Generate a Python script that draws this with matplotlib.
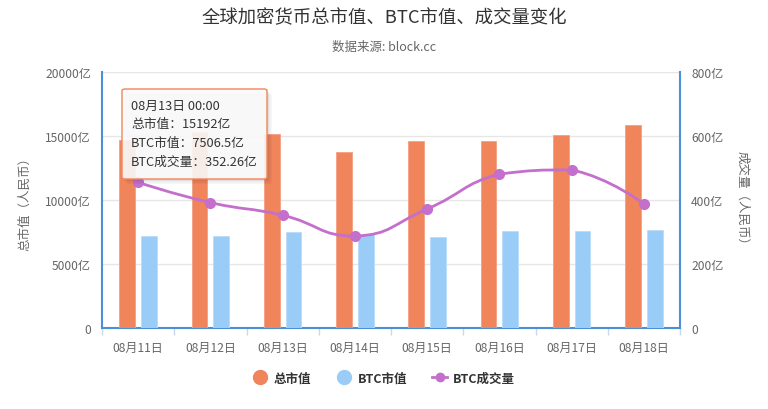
import matplotlib
matplotlib.use("Agg")
import matplotlib.pyplot as plt
import numpy as np
from matplotlib.path import Path
from matplotlib.patches import PathPatch, FancyBboxPatch
from matplotlib.lines import Line2D

plt.rcParams['font.family'] = ['Noto Sans CJK SC', 'DejaVu Sans']

# ---- data ----
dates = ['08月11日', '08月12日', '08月13日', '08月14日', '08月15日', '08月16日', '08月17日', '08月18日']
total_cap = [14700, 15300, 15192, 13730, 14600, 14600, 15080, 15860]
btc_cap = [7150, 7160, 7506.5, 7350, 7090, 7540, 7540, 7640]
btc_volume = [455, 392, 352.26, 287, 372, 481, 494, 388]
left_ticks = [0, 5000, 10000, 15000, 20000]
left_tick_labels = ['0', '5000亿', '10000亿', '15000亿', '20000亿']
right_ticks = [0, 200, 400, 600, 800]
right_tick_labels = ['0', '200亿', '400亿', '600亿', '800亿']
tooltip_lines = ['08月13日 00:00', '总市值：15192亿', 'BTC市值：7506.5亿', 'BTC成交量：352.26亿']

C_ORANGE = '#f0845b'
C_BLUE = '#99cdf8'
C_PURPLE = '#c36fcb'
C_AXIS = '#4c8fd6'
C_TEXT = '#666666'

W, H = 768, 410
fig = plt.figure(figsize=(W / 100, H / 100), dpi=100)
ax = fig.add_axes([102 / W, 1 - 329 / H, (680 - 102) / W, (329 - 73) / H])
ax2 = ax.twinx()

x = np.arange(len(dates))
bw = 0.22
ax.bar(x - 0.15, total_cap, width=bw, color=C_ORANGE, edgecolor='#f5a080', linewidth=0.6, zorder=3)
ax.bar(x + 0.15, btc_cap, width=bw, color=C_BLUE, edgecolor='#b9dcfa', linewidth=0.6, zorder=3)

ax.set_xlim(-0.5, len(dates) - 0.5)
ax.set_ylim(0, 20000)
ax2.set_ylim(0, 800)

# grid
for t in left_ticks[1:]:
    ax.axhline(t, color='#e6e6e6', linewidth=1, zorder=1)

ax.set_yticks(left_ticks)
ax.set_yticklabels(left_tick_labels)
ax2.set_yticks(right_ticks)
ax2.set_yticklabels(right_tick_labels)
for a in (ax, ax2):
    a.tick_params(axis='y', length=0, pad=8, labelsize=8.7, labelcolor=C_TEXT)
    for s in a.spines.values():
        s.set_visible(False)
ax.spines['left'].set_visible(True)
ax.spines['bottom'].set_visible(True)
ax2.spines['right'].set_visible(True)
for s in (ax.spines['left'], ax.spines['bottom'], ax2.spines['right']):
    s.set_color(C_AXIS)
    s.set_linewidth(1.5)

ax.set_xticks(x)
ax.set_xticklabels(dates)
ax.tick_params(axis='x', length=0, pad=9, labelsize=8.7, labelcolor=C_TEXT)
ax.set_xticks(np.arange(-0.5, len(dates), 1.0), minor=True)
ax.tick_params(axis='x', which='minor', length=5, color='#c9d8ea', width=1)

ax.set_ylabel('总市值（人民币）', color=C_TEXT, fontsize=9, labelpad=10)
ax2.set_ylabel('成交量（人民币）', color=C_TEXT, fontsize=9, rotation=-90, labelpad=18)

# smooth line (echarts-like bezier smoothing in display space)
fig.canvas.draw()
pts = ax2.transData.transform(np.column_stack([x, btc_volume]))
smooth = 0.5
pmin = pts.min(axis=0)
pmax = pts.max(axis=0)
cps = [pts[0]]
for i in range(1, len(pts) - 1):
    p, pp, pn = pts[i], pts[i - 1], pts[i + 1]
    v = (pn - pp) * smooth
    d0 = np.hypot(*(p - pp))
    d1 = np.hypot(*(p - pn))
    s = d0 + d1
    d0, d1 = d0 / s, d1 / s
    c0 = np.clip(p - v * d0, pmin, pmax)
    c1 = np.clip(p + v * d1, pmin, pmax)
    cps.append(c0)
    cps.append(c1)
cps.append(pts[-1])
verts = [pts[0]]
codes = [Path.MOVETO]
for i in range(len(pts) - 1):
    verts += [cps[2 * i], cps[2 * i + 1], pts[i + 1]]
    codes += [Path.CURVE4] * 3
inv = ax2.transData.inverted()
verts_data = inv.transform(np.array(verts))
ax2.add_patch(PathPatch(Path(verts_data, codes), facecolor='none', edgecolor=C_PURPLE,
                        linewidth=2, zorder=4))
ax2.plot(x, btc_volume, linestyle='none', marker='o', markersize=7, color=C_PURPLE, zorder=5)

# title
fig.text(0.5, 1 - 18 / H, '全球加密货币总市值、BTC市值、成交量变化', ha='center', va='center',
         fontsize=13.2, color='#333333')
fig.text(0.5, 1 - 47 / H, '数据来源: block.cc', ha='center', va='center', fontsize=9, color=C_TEXT)

# legend
handles = [
    Line2D([], [], linestyle='none', marker='o', markersize=10, color=C_ORANGE),
    Line2D([], [], linestyle='none', marker='o', markersize=10, color=C_BLUE),
    Line2D([], [], linestyle='-', linewidth=2, marker='o', markersize=6, color=C_PURPLE),
]
leg = fig.legend(handles, ['总市值', 'BTC市值', 'BTC成交量'], loc='center',
                 bbox_to_anchor=(0.5, 1 - 379 / H), ncol=3, frameon=False,
                 fontsize=9, handlelength=1.2, handletextpad=0.5, columnspacing=2.0)
for t in leg.get_texts():
    t.set_color('#333333')
    t.set_fontweight('bold')

# tooltip
bx0, by0, bx1, by1 = 122, 90, 267, 180
for k, a in enumerate([0.05, 0.04, 0.03]):
    off = 2 + k * 1.5
    sh = FancyBboxPatch(((bx0 + off) / W, 1 - (by1 + off) / H), (bx1 - bx0) / W, (by1 - by0) / H,
                        boxstyle='round,pad=0,rounding_size=0.004', transform=fig.transFigure,
                        facecolor='black', edgecolor='none', alpha=a, zorder=9)
    fig.add_artist(sh)
box = FancyBboxPatch((bx0 / W, 1 - by1 / H), (bx1 - bx0) / W, (by1 - by0) / H,
                     boxstyle='round,pad=0,rounding_size=0.004', transform=fig.transFigure,
                     facecolor=(0.985, 0.985, 0.985, 0.9), edgecolor=C_ORANGE, linewidth=1, zorder=10)
fig.add_artist(box)
for yy, line in zip([106, 124.5, 143.5, 162], tooltip_lines):
    fig.text(131 / W, 1 - yy / H, line, ha='left', va='center', fontsize=9.2, color='#333333', zorder=11)

fig.savefig('out.png', dpi=100)
